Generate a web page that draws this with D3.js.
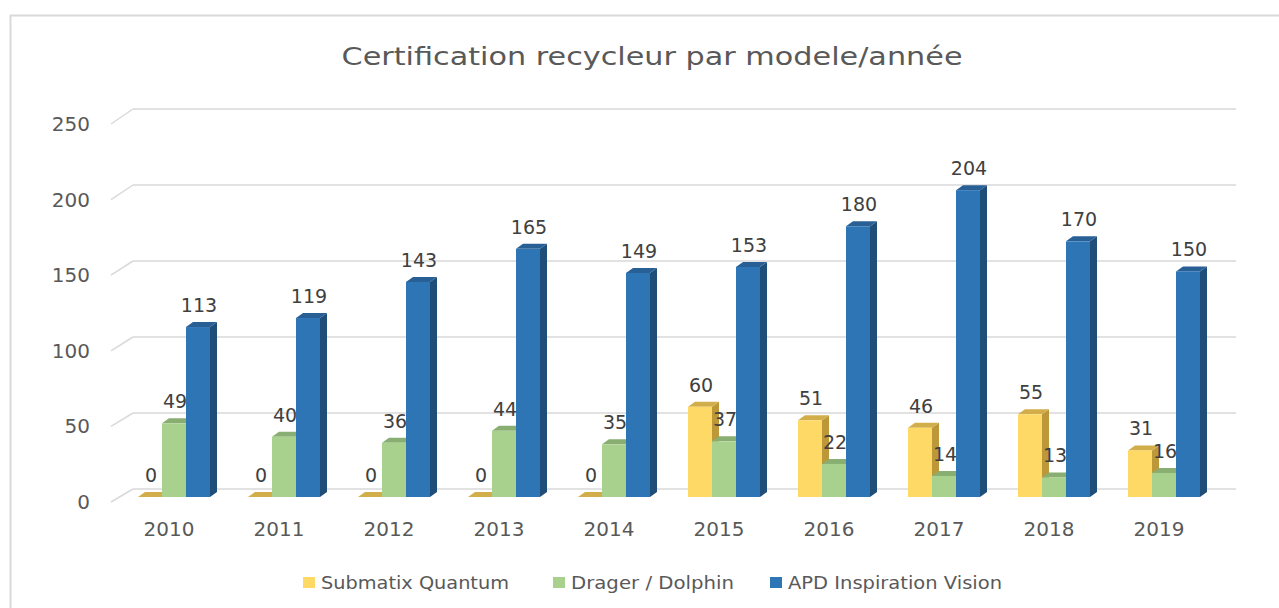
<!DOCTYPE html>
<html>
<head>
<meta charset="utf-8">
<script src="https://cdn.jsdelivr.net/npm/d3@7"></script>
<style>
  body { margin: 0; background: #fff; }
  svg { display: block; }
</style>
</head>
<body>
<svg id="chart" width="1279" height="608"></svg>
<script>
var years = ['2010', '2011', '2012', '2013', '2014', '2015', '2016', '2017', '2018', '2019'];
var submatix = [0, 0, 0, 0, 0, 60, 51, 46, 55, 31];
var drager = [49, 40, 36, 44, 35, 37, 22, 14, 13, 16];
var apd = [113, 119, 143, 165, 149, 153, 180, 204, 170, 150];
var seriesNames = ['Submatix Quantum', 'Drager / Dolphin', 'APD Inspiration Vision'];
var yTicks = [0, 50, 100, 150, 200, 250];

// front / top / side colours per series
var colors = [
    { front: '#FFD966', top: '#D2AE4B', side: '#BC9838' },
    { front: '#A9D18E', top: '#88AE72', side: '#7A9C66' },
    { front: '#2E75B6', top: '#285F95', side: '#1F4E79' }
];

var series = [submatix, drager, apd];
var depthX = 7, depthY = -5;

var svg = d3.select('#chart');

// outer frame
svg.append('rect')
    .attr('x', 10.5).attr('y', 15.5)
    .attr('width', 1400).attr('height', 800)
    .attr('fill', 'none')
    .attr('stroke', '#D9D9D9')
    .attr('stroke-width', 2);

// title (the original is a bit stretched horizontally)
var title = svg.append('text')
    .attr('x', 652).attr('y', 65)
    .attr('text-anchor', 'middle')
    .attr('font-family', 'DejaVu Sans')
    .attr('font-size', 25)
    .attr('fill', '#595959')
    .text('Certification recycleur par modele/année');
title.attr('textLength', 621).attr('lengthAdjust', 'spacingAndGlyphs');

// scales: back wall, front edge of side wall, bars
var yBack = d3.scaleLinear().domain([0, 250]).range([489, 109]);
var yFront = d3.scaleLinear().domain([0, 250]).range([502, 124]);
var yBar = d3.scaleLinear().domain([0, 250]).range([497, 121]);

var x = d3.scaleBand().domain(years).range([119, 1219]);
var xs = d3.scaleBand().domain(d3.range(3)).range([-36, 36]);

// gridlines
var grid = svg.append('g');
yTicks.forEach(function(t) {
    grid.append('line')
        .attr('x1', 133).attr('x2', 1236)
        .attr('y1', yBack(t)).attr('y2', yBack(t))
        .attr('stroke', '#D9D9D9').attr('stroke-width', 1.5);
    grid.append('line')
        .attr('x1', 111).attr('x2', 133)
        .attr('y1', yFront(t)).attr('y2', yBack(t))
        .attr('stroke', '#D9D9D9').attr('stroke-width', 1.5);
});

// y axis labels
var yAxis = svg.append('g')
    .attr('transform', 'translate(98,0)')
    .call(d3.axisLeft(yFront).tickValues(yTicks).tickSize(0).tickPadding(8));
yAxis.select('.domain').remove();
yAxis.selectAll('text')
    .attr('font-family', 'DejaVu Sans')
    .attr('font-size', 20)
    .attr('fill', '#595959');

// x axis labels
var xAxis = svg.append('g')
    .attr('transform', 'translate(-5,518)')
    .call(d3.axisBottom(x).tickSize(0).tickPadding(4));
xAxis.select('.domain').remove();
xAxis.selectAll('text')
    .attr('font-family', 'DejaVu Sans')
    .attr('font-size', 20)
    .attr('fill', '#595959');

// 3d bars
var bars = svg.append('g');
years.forEach(function(yr, i) {
    series.forEach(function(vals, s) {
        var v = vals[i];
        var x0 = x(yr) + x.bandwidth() / 2 + xs(s);
        var w = xs.bandwidth();
        var yt = yBar(v), yb = yBar(0);
        var c = colors[s];
        var g = bars.append('g');
        if (v > 0) {
            g.append('path')
                .attr('d', 'M' + (x0 + w) + ',' + yt +
                    'L' + (x0 + w + depthX) + ',' + (yt + depthY) +
                    'L' + (x0 + w + depthX) + ',' + (yb + depthY) +
                    'L' + (x0 + w) + ',' + yb + 'Z')
                .attr('fill', c.side);
        }
        g.append('path')
            .attr('d', 'M' + x0 + ',' + yt +
                'L' + (x0 + depthX) + ',' + (yt + depthY) +
                'L' + (x0 + w + depthX) + ',' + (yt + depthY) +
                'L' + (x0 + w) + ',' + yt + 'Z')
            .attr('fill', c.top);
        if (v > 0) {
            g.append('rect')
                .attr('x', x0).attr('y', yt)
                .attr('width', w).attr('height', yb - yt)
                .attr('fill', c.front);
        }
    });
});

// value labels
var labels = svg.append('g');
years.forEach(function(yr, i) {
    series.forEach(function(vals, s) {
        var v = vals[i];
        labels.append('text')
            .attr('x', x(yr) + x.bandwidth() / 2 + xs(s) + xs.bandwidth() / 2 + 1)
            .attr('y', yBar(v) - 15)
            .attr('text-anchor', 'middle')
            .attr('font-family', 'DejaVu Sans')
            .attr('font-size', 19)
            .attr('fill', '#404040')
            .text(v);
    });
});

// legend
var legendX = [303, 553, 770];
var legendW = [188, 163, 214];
var legend = svg.append('g');
seriesNames.forEach(function(name, s) {
    legend.append('rect')
        .attr('x', legendX[s]).attr('y', 577)
        .attr('width', 12).attr('height', 11)
        .attr('fill', colors[s].front);
    legend.append('text')
        .attr('x', legendX[s] + 18).attr('y', 589)
        .attr('font-family', 'DejaVu Sans')
        .attr('font-size', 17)
        .attr('fill', '#595959')
        .attr('textLength', legendW[s])
        .attr('lengthAdjust', 'spacingAndGlyphs')
        .text(name);
});
</script>
</body>
</html>
